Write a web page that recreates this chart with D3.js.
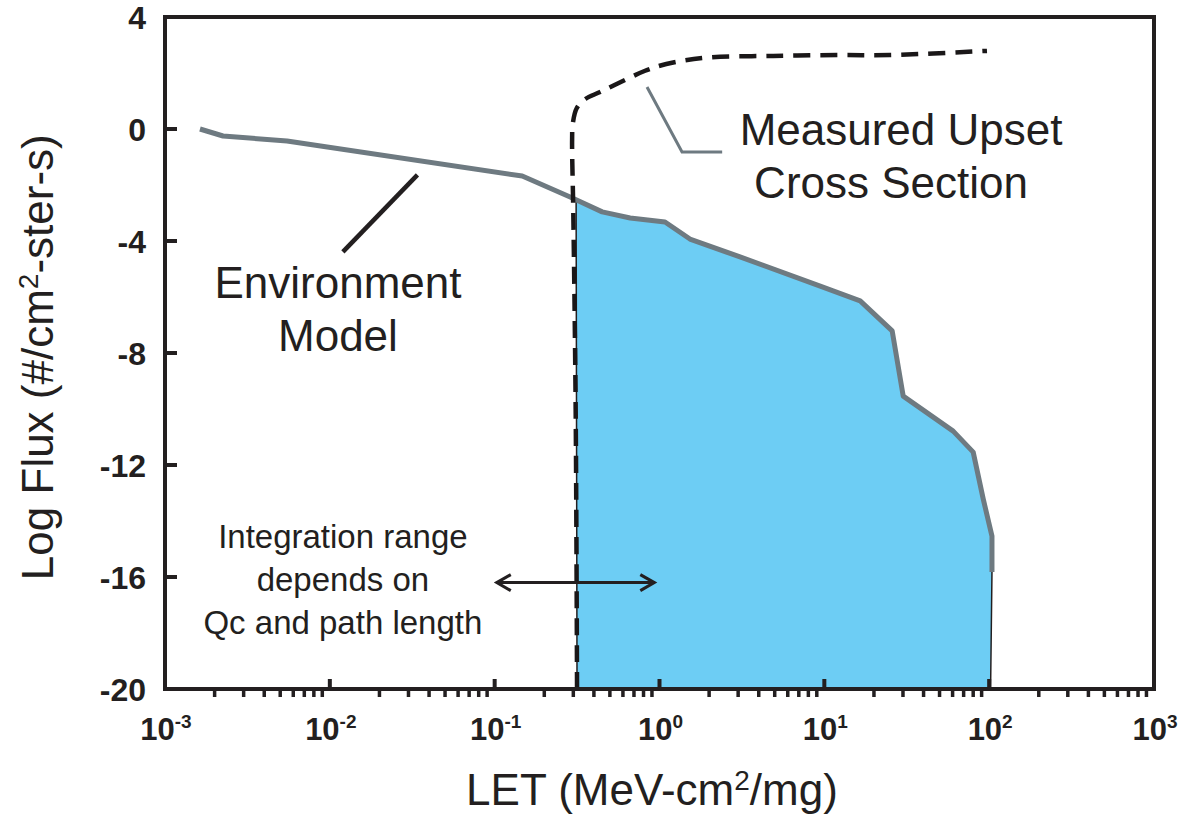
<!DOCTYPE html>
<meta charset="utf-8">
<style>
body { margin: 0; background: #fff; }
svg { font-family: "Liberation Sans", Arial, sans-serif; }
.axis-line { fill: none; stroke: #231f20; stroke-width: 4px; }
.tick-label { font-weight: bold; fill: #231f20; }
.ann { fill: #231f20; }
</style>
<svg width="1188" height="814"></svg>
<script src="https://d3js.org/d3.v7.min.js"></script>
<script>

// environment model (LET vs log flux)
var envLET  = [0.00163, 0.00225, 0.0055, 0.147, 0.287, 0.449, 0.664, 1.08, 1.53, 3.08, 9.44, 16.5, 25.8, 30.1, 60.5, 80, 92, 104, 104];
var envFlux = [0, -0.25, -0.43, -1.68, -2.43, -2.96, -3.18, -3.32, -3.93, -4.57, -5.61, -6.14, -7.21, -9.54, -10.79, -11.54, -13.21, -14.54, -15.82];

// measured upset cross section (dashed)
var xsLET  = [0.316, 0.31, 0.3, 0.295, 0.298, 0.315, 0.355, 0.436, 0.618, 0.818, 1.1, 1.95, 4.89, 12.5, 25, 97];
var xsFlux = [-20, -10, -3, -0.39, 0.2, 0.75, 1.07, 1.32, 1.75, 2.08, 2.32, 2.55, 2.61, 2.64, 2.64, 2.79];

// shaded integration region
var fillLET  = [0.316, 0.312, 0.449, 0.664, 1.08, 1.53, 3.08, 9.44, 16.5, 25.8, 30.1, 60.5, 80, 92, 104, 104, 102];
var fillFlux = [-20, -2.5, -2.96, -3.18, -3.32, -3.93, -4.57, -5.61, -6.14, -7.21, -9.54, -10.79, -11.54, -13.21, -14.54, -15.82, -20];

var yTicks = [4, 0, -4, -8, -12, -16, -20];
var xDecades = [-3, -2, -1, 0, 1, 2, 3];

var svg = d3.select("svg");

var x = d3.scaleLog().domain([1e-3, 1e3]).range([165, 1154]);
var y = d3.scaleLinear().domain([-20, 4]).range([689, 17]);

function pts(xs, ys) { return xs.map(function(d, i) { return [d, ys[i]]; }); }

var line = d3.line()
    .x(function(d) { return x(d[0]); })
    .y(function(d) { return y(d[1]); });

// fill
svg.append("path")
    .attr("d", line(pts(fillLET, fillFlux)) + "Z")
    .attr("fill", "#6dcdf4")
    .attr("stroke", "#231f20")
    .attr("stroke-width", 1.5);

// environment curve
svg.append("path")
    .attr("d", line(pts(envLET, envFlux)))
    .attr("fill", "none")
    .attr("stroke", "#6e7a81")
    .attr("stroke-width", 5)
    .attr("stroke-linejoin", "round");

// cross section dashed curve
var smooth = d3.line()
    .x(function(d) { return x(d[0]); })
    .y(function(d) { return y(d[1]); })
    .curve(d3.curveCatmullRom.alpha(0.5));

svg.append("path")
    .attr("d", smooth(pts(xsLET, xsFlux)))
    .attr("fill", "none")
    .attr("stroke", "#1a1718")
    .attr("stroke-width", 4.5)
    .attr("stroke-dasharray", "17,10");

// frame
svg.append("rect")
    .attr("class", "axis-line")
    .attr("x", x(1e-3)).attr("y", y(4))
    .attr("width", x(1e3) - x(1e-3))
    .attr("height", y(-20) - y(4));

// y ticks (inward)
svg.selectAll(".ytick").data(yTicks.slice(1, -1)).enter().append("line")
    .attr("class", "axis-line")
    .attr("x1", x(1e-3)).attr("x2", x(1e-3) + 12)
    .attr("y1", function(d) { return y(d); })
    .attr("y2", function(d) { return y(d); });

svg.selectAll(".ylab").data(yTicks).enter().append("text")
    .attr("class", "tick-label")
    .attr("x", x(1e-3) - 19)
    .attr("y", function(d) { return y(d); })
    .attr("dy", "0.36em")
    .attr("text-anchor", "end")
    .style("font-size", "32px")
    .text(function(d) { return d; });

// x major ticks (inward) and minor ticks (outward)
svg.selectAll(".xmaj").data(xDecades.slice(1, -1)).enter().append("line")
    .attr("class", "axis-line")
    .attr("x1", function(d) { return x(Math.pow(10, d)); })
    .attr("x2", function(d) { return x(Math.pow(10, d)); })
    .attr("y1", y(-20)).attr("y2", y(-20) - 10);

var minors = [];
xDecades.slice(0, -1).forEach(function(k) {
  for (var m = 2; m <= 9; m++) minors.push(m * Math.pow(10, k));
});
svg.selectAll(".xmin").data(minors).enter().append("line")
    .attr("stroke", "#231f20").attr("stroke-width", 3.5)
    .attr("x1", function(d) { return x(d); })
    .attr("x2", function(d) { return x(d); })
    .attr("y1", y(-20)).attr("y2", y(-20) + 8);

var xl = svg.selectAll(".xlab").data(xDecades).enter().append("text")
    .attr("class", "tick-label")
    .attr("x", function(d) { return x(Math.pow(10, d)) + 1; })
    .attr("y", y(-20) + 51)
    .attr("text-anchor", "middle")
    .style("font-size", "31px");
xl.append("tspan").text("10");
xl.append("tspan").attr("dy", -12).style("font-size", "19px")
    .text(function(d) { return d; });

// axis titles
var xt = svg.append("text").attr("class", "ann")
    .attr("x", x(0.9)).attr("y", 805)
    .attr("text-anchor", "middle").style("font-size", "44px");
xt.append("tspan").text("LET (MeV-cm");
xt.append("tspan").attr("dy", -15).style("font-size", "28px").text("2");
xt.append("tspan").attr("dy", 15).text("/mg)");

var yt = svg.append("text").attr("class", "ann")
    .attr("transform", "translate(53," + y(-8.15) + ") rotate(-90)")
    .attr("text-anchor", "middle").style("font-size", "44px");
yt.append("tspan").text("Log Flux (#/cm");
yt.append("tspan").attr("dy", -15).style("font-size", "28px").text("2");
yt.append("tspan").attr("dy", 15).text("-ster-s)");

// annotations
svg.append("path")
    .attr("d", line([[0.84, 1.5], [1.37, -0.82], [2.4, -0.82]]))
    .attr("fill", "none").attr("stroke", "#6e7a81").attr("stroke-width", 3);

svg.append("text").attr("class", "ann").attr("text-anchor", "middle").style("font-size", "44px")
    .attr("x", x(29.2)).attr("y", y(-0.57)).text("Measured Upset");
svg.append("text").attr("class", "ann").attr("text-anchor", "middle").style("font-size", "44px")
    .attr("x", x(25.4)).attr("y", y(-2.46)).text("Cross Section");

svg.append("path")
    .attr("d", line([[0.012, -4.39], [0.034, -1.64]]))
    .attr("fill", "none").attr("stroke", "#231f20").attr("stroke-width", 4.5);

svg.append("text").attr("class", "ann").attr("text-anchor", "middle").style("font-size", "44px")
    .attr("x", x(0.0112)).attr("y", y(-6.04)).text("Environment");
svg.append("text").attr("class", "ann").attr("text-anchor", "middle").style("font-size", "44px")
    .attr("x", x(0.0112)).attr("y", y(-7.93)).text("Model");

var integ = ["Integration range", "depends on", "Qc and path length"];
svg.selectAll(".integ").data(integ).enter().append("text")
    .attr("class", "ann").attr("text-anchor", "middle").style("font-size", "33px")
    .attr("x", x(0.012))
    .attr("y", function(d, i) { return y(-14.96) + i * 43; })
    .text(function(d) { return d; });

// double arrow
var ay = y(-16.2), ax1 = x(0.103), ax2 = x(0.93);
svg.append("line").attr("x1", ax1).attr("x2", ax2).attr("y1", ay).attr("y2", ay)
    .attr("stroke", "#231f20").attr("stroke-width", 3);
svg.append("path")
    .attr("d", "M" + (ax1 + 14) + "," + (ay - 8) + "L" + ax1 + "," + ay + "L" + (ax1 + 14) + "," + (ay + 8) +
               "M" + (ax2 - 14) + "," + (ay - 8) + "L" + ax2 + "," + ay + "L" + (ax2 - 14) + "," + (ay + 8))
    .attr("fill", "none").attr("stroke", "#231f20").attr("stroke-width", 3);

</script>
